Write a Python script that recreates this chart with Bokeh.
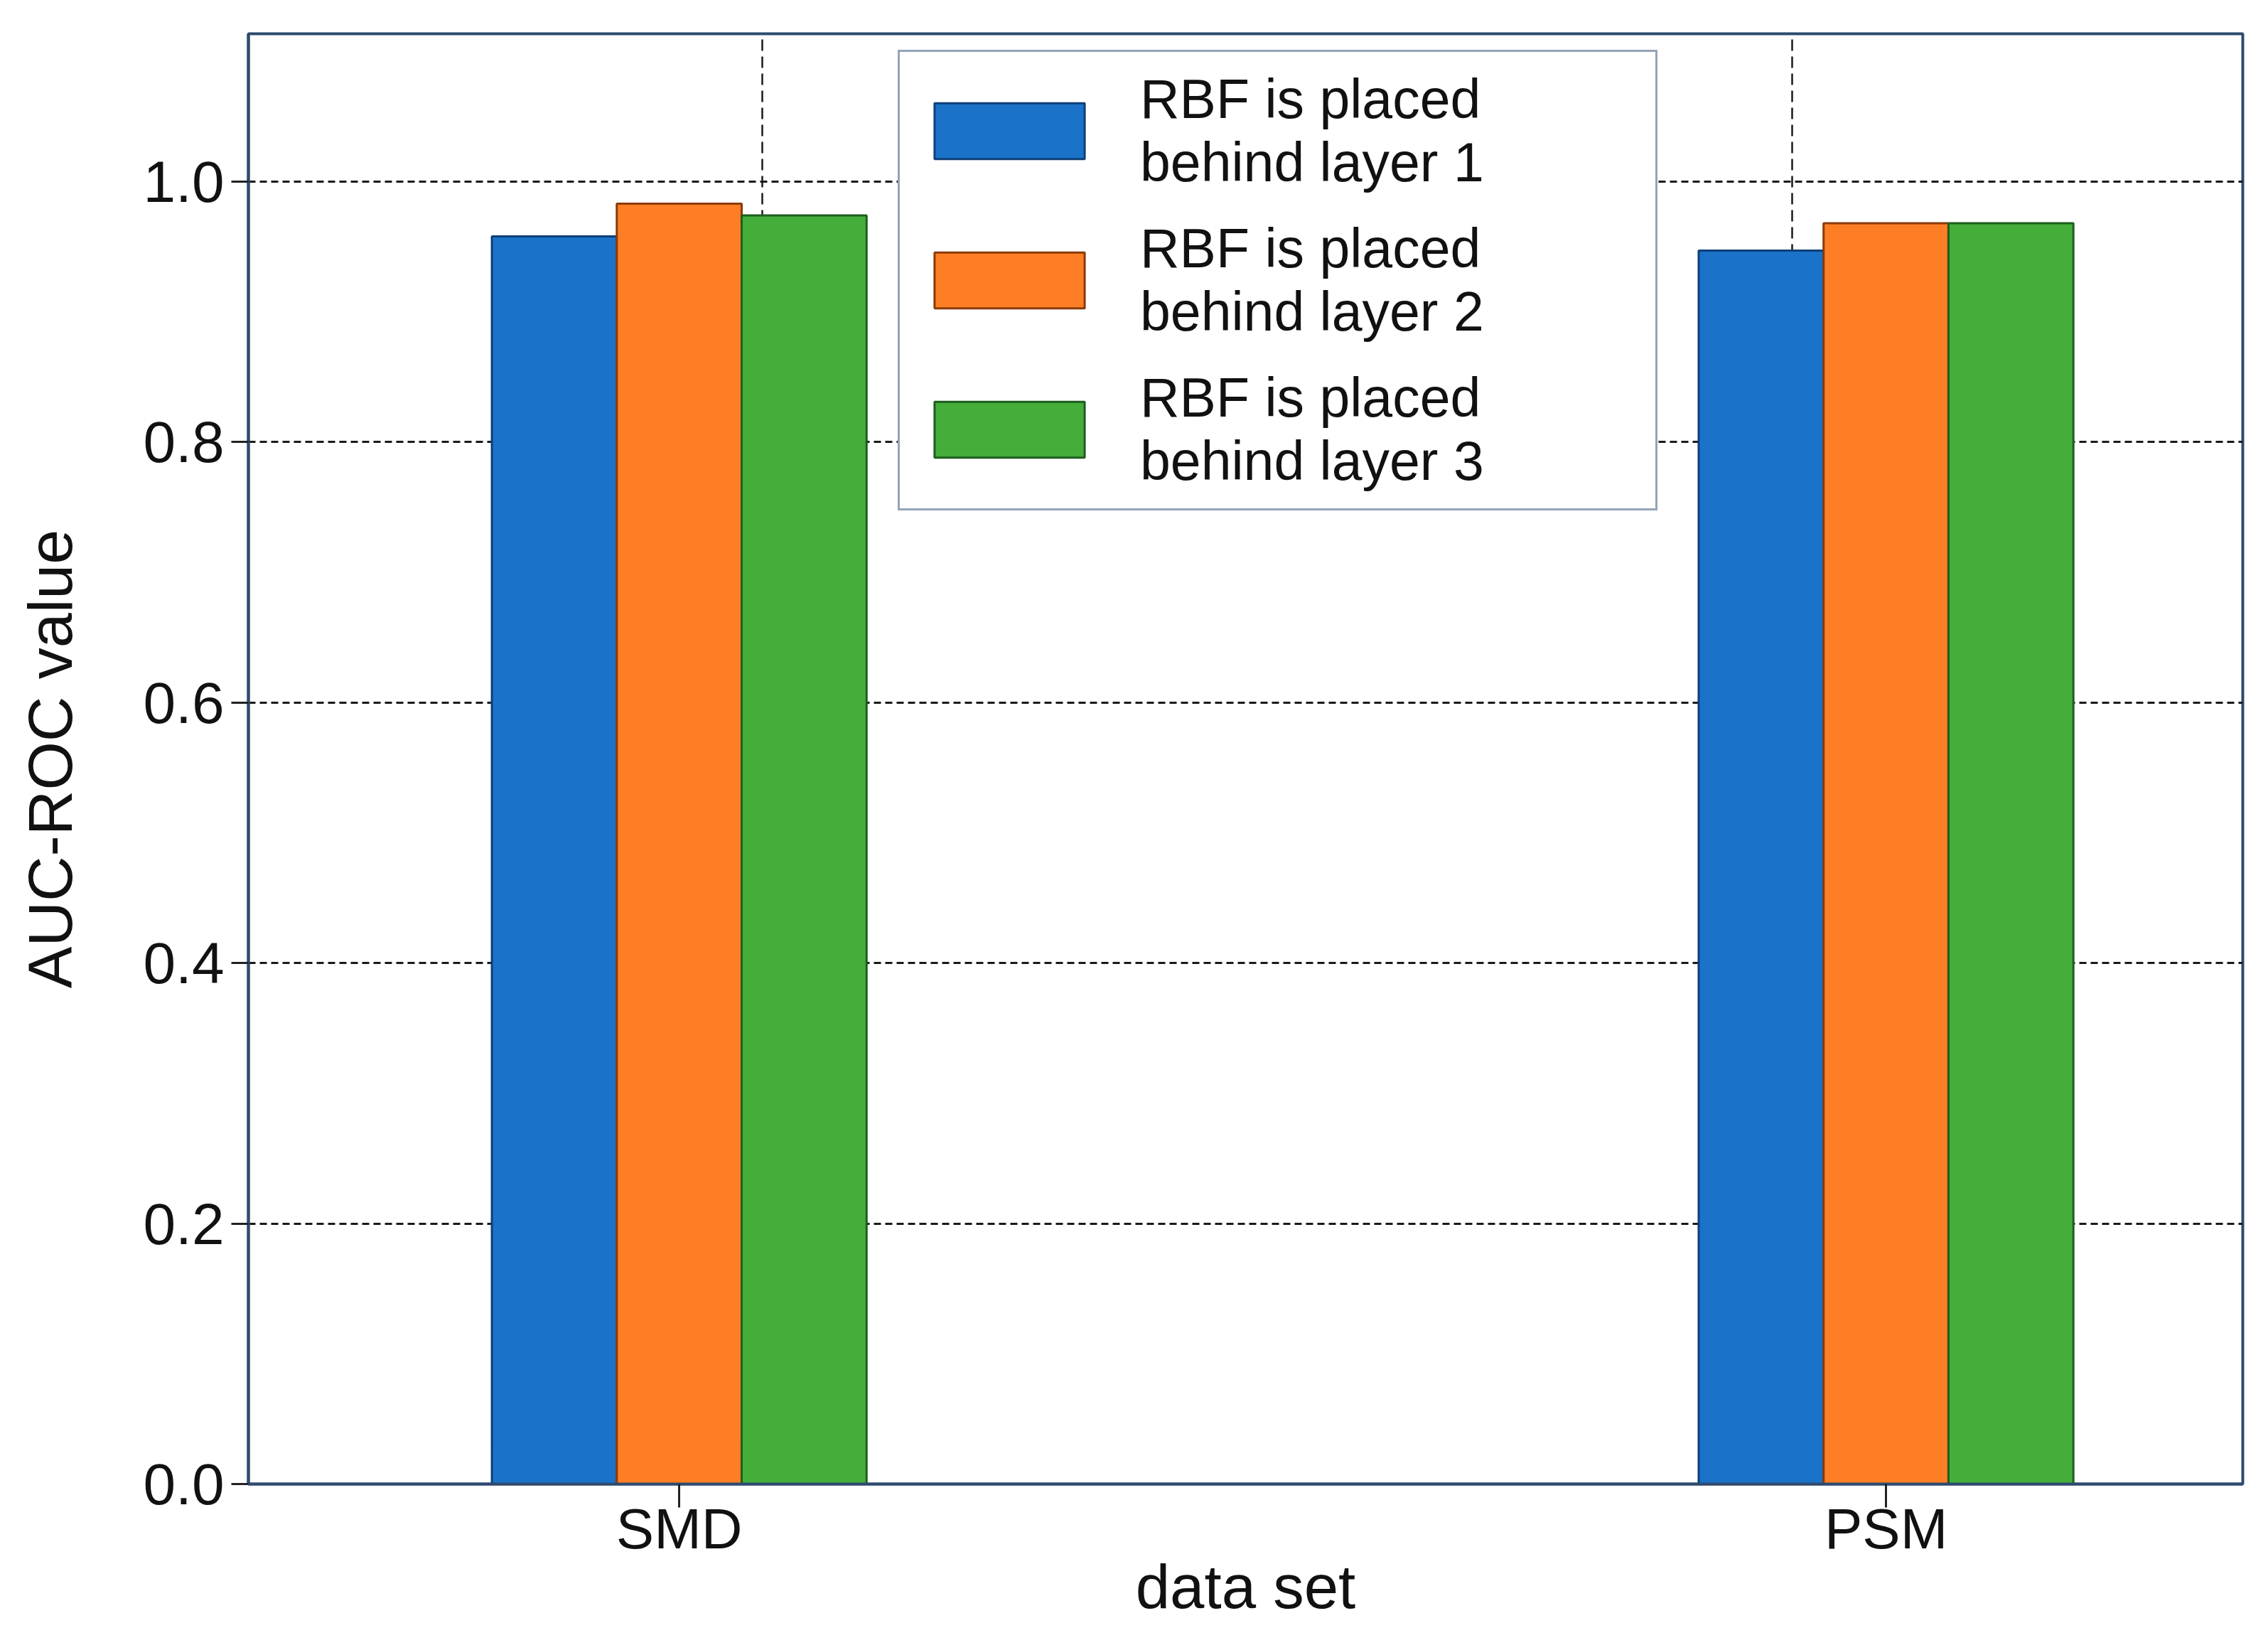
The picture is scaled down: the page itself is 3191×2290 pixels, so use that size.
from bokeh.plotting import figure
from bokeh.models import FixedTicker, Legend, LegendItem, NumeralTickFormatter, Range1d
from bokeh.embed import file_html
from bokeh.resources import INLINE

# ---- data ----
categories = ["SMD", "PSM"]
series_labels = ["RBF is placed\nbehind layer 1",
                 "RBF is placed\nbehind layer 2",
                 "RBF is placed\nbehind layer 3"]
layer1 = [0.958, 0.947]
layer2 = [0.983, 0.968]
layer3 = [0.974, 0.968]
y_ticks = [0.0, 0.2, 0.4, 0.6, 0.8, 1.0]
vgrid_x = [0.069, 0.922]

series = [layer1, layer2, layer3]
fills = ["#1a73c8", "#fd7e24", "#45ae3a"]
edges = ["#0e3f78", "#8a3a0a", "#1d5e1d"]
offsets = [-0.1035, 0.0, 0.1035]
bar_w = 0.1035

FONT = "Liberation Sans"
NAVY = "#2e4a70"

p = figure(width=3190, height=2288, output_backend="svg", toolbar_location=None,
           x_range=Range1d(-0.357, 1.2956), y_range=Range1d(0, 1.1135),
           min_border_left=349, min_border_right=35, min_border_top=47, min_border_bottom=201)

x_idx = list(range(len(categories)))
renderers = []
for vals, off, fc, lc in zip(series, offsets, fills, edges):
    r = p.vbar(x=[i + off for i in x_idx], top=vals, bottom=0, width=bar_w,
               fill_color=fc, line_color=lc, line_width=3)
    renderers.append(r)

# axes
p.xaxis.ticker = FixedTicker(ticks=x_idx)
p.xaxis.major_label_overrides = {i: c for i, c in zip(x_idx, categories)}
p.yaxis.ticker = FixedTicker(ticks=y_ticks)
p.yaxis.formatter = NumeralTickFormatter(format="0.0")
p.xaxis.minor_tick_line_color = None
p.yaxis.minor_tick_line_color = None
p.xaxis.major_tick_out = 33
p.xaxis.major_tick_in = 0
p.yaxis.major_tick_out = 24
p.yaxis.major_tick_in = 0
for ax in (p.xaxis, p.yaxis):
    ax.axis_line_color = NAVY
    ax.axis_line_width = 4
    ax.major_tick_line_color = "#222222"
    ax.major_tick_line_width = 3
    ax.major_label_text_font = FONT
    ax.major_label_text_color = "#111111"
    ax.axis_label_text_font = FONT
    ax.axis_label_text_font_style = "normal"
    ax.axis_label_text_color = "#111111"

p.xaxis.axis_label = "data set"
p.yaxis.axis_label = "AUC-ROC value"
p.xaxis.major_label_text_font_size = "80px"
p.yaxis.major_label_text_font_size = "82px"
p.xaxis.axis_label_text_font_size = "87px"
p.yaxis.axis_label_text_font_size = "88px"
p.xaxis.major_label_standoff = -15
p.yaxis.major_label_standoff = 10
p.xaxis.axis_label_standoff = -15
p.yaxis.axis_label_standoff = 79

# grids
p.ygrid.grid_line_color = "#1a1a1a"
p.ygrid.grid_line_dash = "10 6"
p.ygrid.grid_line_width = 3
p.xgrid.ticker = FixedTicker(ticks=vgrid_x)
p.xgrid.grid_line_color = "#1a1a1a"
p.xgrid.grid_line_dash = "16 8"
p.xgrid.grid_line_width = 2.5

p.outline_line_color = NAVY
p.outline_line_width = 4
p.background_fill_color = "white"
p.border_fill_color = "white"

legend = Legend(items=[LegendItem(label=l, renderers=[r]) for l, r in zip(series_labels, renderers)],
                location=(914, 1369), margin=0,
                glyph_width=264, glyph_height=98, label_standoff=52, padding=22,
                spacing=32, label_width=703,
                label_text_font=FONT, label_text_font_size="77px",
                label_text_line_height=1.26, label_text_color="#111111",
                border_line_color=NAVY, border_line_width=3,
                background_fill_color="white", background_fill_alpha=1.0)
p.add_layout(legend)

open("out.html", "w").write(file_html(p, INLINE))
